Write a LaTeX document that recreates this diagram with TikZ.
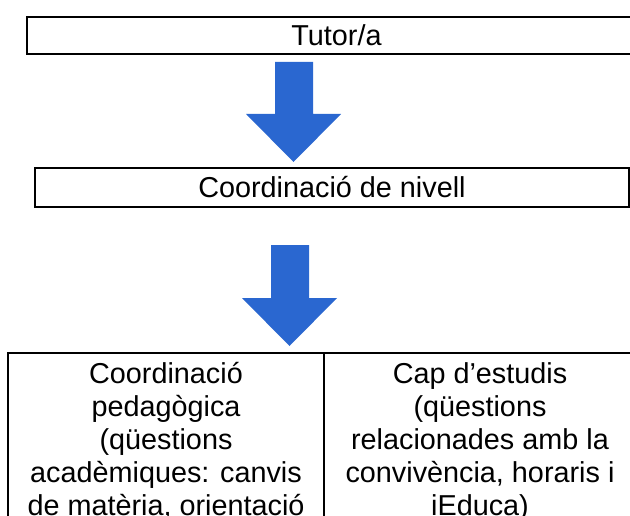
\documentclass[tikz,border=0pt]{standalone}
\usepackage{fontspec}
\setmainfont{Liberation Sans}
\definecolor{arrowblue}{RGB}{42,103,208}
\begin{document}
\begin{tikzpicture}[x=1bp,y=-1bp,
  box/.style={draw=black, line width=2bp, inner sep=0pt, outer sep=0pt,
    font=\fontsize{28.8bp}{33bp}\selectfont},
  lbl/.style={inner sep=0pt, align=center, font=\fontsize{28.8bp}{33bp}\selectfont},
  blockarrow/.style={fill=arrowblue, draw=none}]
\useasboundingbox (0,0) rectangle (630,516);
\clip (0,0) rectangle (630,516);
% boxes
\node[box, minimum width=619bp, minimum height=37bp] (tutor) at (336.5,35.5) {Tutor/a};
\node[box, minimum width=594bp, minimum height=39bp] (nivell) at (332,187.5) {Coordinació de nivell};
\node[box, minimum width=316bp, minimum height=397bp] (ped) at (166,551.5) {};
\node[box, minimum width=312bp, minimum height=397bp] (cap) at (480,551.5) {};
% cell texts (base = baseline of last line)
\node[lbl, anchor=base] (pedt) at (166,515) {Coordinació\\pedagògica\\(qüestions\\acadèmiques: canvis\\de matèria, orientació};
\node[lbl, anchor=base] (capt) at (480,515) {Cap d’estudis\\(qüestions\\relacionades amb la\\convivència, horaris i\\iEduca)};
% block arrows
\fill[blockarrow] (275,62) -- (313,62) -- (313,114) -- (341,114) -- (293.5,162) -- (246,114) -- (275,114) -- cycle;
\fill[blockarrow] (271,245) -- (309,245) -- (309,298) -- (337,298) -- (289.5,346) -- (242,298) -- (271,298) -- cycle;
\end{tikzpicture}
\end{document}
